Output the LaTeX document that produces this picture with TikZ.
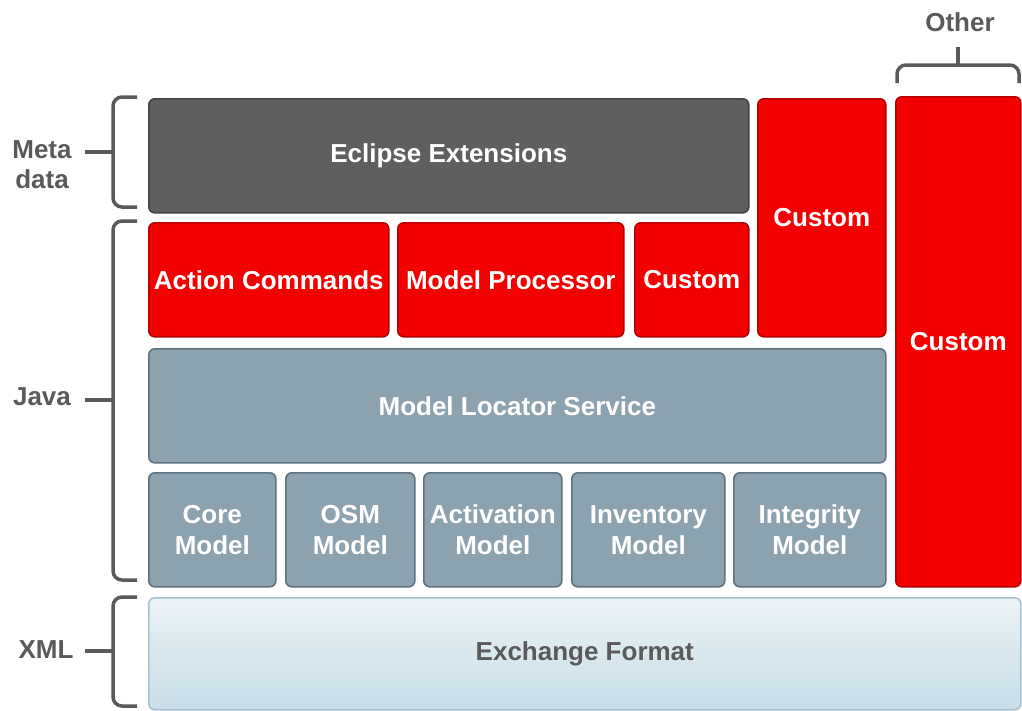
\documentclass[tikz,border=0pt]{standalone}
\usepackage{fontspec}
\setmainfont{Liberation Sans}
\definecolor{eclgray}{HTML}{5F5F5F}
\definecolor{eclgrayline}{HTML}{454545}
\definecolor{custred}{HTML}{F30000}
\definecolor{custredline}{HTML}{B50000}
\definecolor{modelblue}{HTML}{8CA2AE}
\definecolor{modelblueline}{HTML}{5E737E}
\definecolor{xmltop}{HTML}{EBF3F6}
\definecolor{xmlbottom}{HTML}{C8DDE7}
\definecolor{xmlline}{HTML}{A9C3D0}
\definecolor{bracegray}{HTML}{5A5A5A}
\begin{document}
\begin{tikzpicture}[
	x=1pt, y=-1pt,
	block/.style={
		rectangle, rounded corners=6pt,
		line width=1.6pt, anchor=north west, inner sep=0pt,
		align=center, text=white,
		font=\fontsize{26}{31}\selectfont\bfseries
	},
	eclipse/.style={block, fill=eclgray, draw=eclgrayline},
	custom/.style={block, fill=custred, draw=custredline},
	model/.style={block, fill=modelblue, draw=modelblueline},
	exchange/.style={block, top color=xmltop, bottom color=xmlbottom,
		draw=xmlline, text=bracegray},
	brace/.style={draw=bracegray, line width=3.5pt, rounded corners=9pt},
	tag/.style={text=bracegray, align=center,
		font=\fontsize{26}{30}\selectfont\bfseries},
	]
	\useasboundingbox[fill=white] (0,0) rectangle (1022,710);

	% metadata and custom layers
	\node [eclipse, minimum width=600pt, minimum height=114pt] (ecl) at (148,98) {Eclipse Extensions};
	\node [custom, minimum width=128pt, minimum height=238pt] (custtall) at (757,98) {Custom};
	\node [custom, minimum width=125pt, minimum height=490pt] (custother) at (895,96) {Custom};

	% java layer
	\node [custom, minimum width=240pt, minimum height=114pt] (act) at (148,222) {Action Commands};
	\node [custom, minimum width=226pt, minimum height=114pt] (proc) at (397,222) {Model Processor};
	\node [custom, minimum width=114pt, minimum height=114pt] (custsmall) at (634,222) {Custom};
	\node [model, minimum width=737pt, minimum height=114pt] (loc) at (148,348) {Model Locator Service};
	\node [model, minimum width=127pt, minimum height=114pt] (core) at (148,472) {Core\\Model};
	\node [model, minimum width=129pt, minimum height=114pt] (osm) at (285,472) {OSM\\Model};
	\node [model, minimum width=138pt, minimum height=114pt] (activ) at (423,472) {Activation\\Model};
	\node [model, minimum width=153pt, minimum height=114pt] (inv) at (571,472) {Inventory\\Model};
	\node [model, minimum width=152pt, minimum height=114pt] (integ) at (733,472) {Integrity\\Model};

	% xml layer
	\node [exchange, minimum width=872pt, minimum height=112pt] (exch) at (148,597) {Exchange Format};

	% braces
	\node [tag] (meta) at (42,165) {Meta\\data};
	\node [tag] (java) at (42,397) {Java};
	\node [tag] (xml) at (46,650) {XML};
	\node [tag] (other) at (960,22) {Other};
	\draw [brace] (137,97) -- (113,97) -- (113,207) -- (137,207);
	\draw [brace] (113,152) -- (85,152);
	\draw [brace] (137,221) -- (113,221) -- (113,580) -- (137,580);
	\draw [brace] (113,400) -- (85,400);
	\draw [brace] (137,597) -- (113,597) -- (113,706) -- (137,706);
	\draw [brace] (113,651) -- (85,651);
	\draw [brace] (897,83) -- (897,65) -- (1019,65) -- (1019,83);
	\draw [brace] (958,65) -- (958,47);
\end{tikzpicture}
\end{document}
